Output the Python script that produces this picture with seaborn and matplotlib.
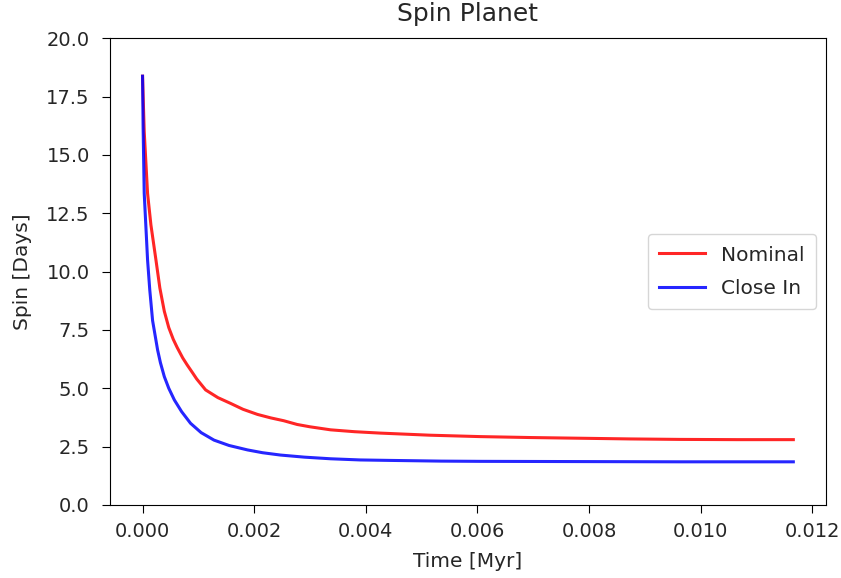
import matplotlib
matplotlib.use("Agg")
import matplotlib.pyplot as plt
import seaborn as sns

# Nominal planet spin
t_nominal = [0.0, 0.00003, 0.00009, 0.00015, 0.00024, 0.00031, 0.00039, 0.00047, 0.00055,
             0.00062, 0.00072, 0.0008, 0.0009, 0.00097, 0.00113, 0.00135, 0.00158, 0.0018,
             0.00206, 0.0023, 0.00253, 0.00277, 0.003, 0.00337, 0.0038, 0.00426, 0.00515,
             0.00605, 0.00695, 0.00784, 0.00874, 0.00963, 0.01065, 0.01166]
spin_nominal = [18.37, 16.0, 13.35, 12.0, 10.5, 9.3, 8.3, 7.6, 7.1,
                6.75, 6.3, 6.0, 5.65, 5.4, 4.93, 4.6, 4.35, 4.1,
                3.88, 3.73, 3.61, 3.45, 3.35, 3.22, 3.14, 3.08, 2.99,
                2.93, 2.89, 2.86, 2.83, 2.81, 2.80, 2.80]

# Close-in planet spin
t_close = [0.0, 0.00001, 0.00003, 0.00009, 0.00013, 0.00018, 0.00027, 0.00032, 0.00039,
           0.00047, 0.00057, 0.0007, 0.00086, 0.00105, 0.00128, 0.00155, 0.00188, 0.00215,
           0.00247, 0.0029, 0.00337, 0.0039, 0.00444, 0.00535, 0.00605, 0.00784, 0.00963,
           0.01166]
spin_close = [18.37, 16.2, 13.35, 10.5, 9.2, 7.9, 6.64, 6.1, 5.5,
              5.0, 4.5, 4.0, 3.5, 3.1, 2.78, 2.55, 2.36, 2.24,
              2.14, 2.05, 1.98, 1.93, 1.91, 1.88, 1.87, 1.86, 1.85,
              1.85]

plt.rcParams["font.family"] = ["DejaVu Sans"]
plt.rcParams["text.color"] = "#262626"
plt.rcParams["axes.labelcolor"] = "#262626"
plt.rcParams["xtick.labelcolor"] = "#262626"
plt.rcParams["ytick.labelcolor"] = "#262626"
plt.rcParams["xtick.labelsize"] = 14
plt.rcParams["ytick.labelsize"] = 14
plt.rcParams["axes.labelsize"] = 14.5
plt.rcParams["xtick.major.size"] = 5.5
plt.rcParams["ytick.major.size"] = 5.5
plt.rcParams["xtick.major.pad"] = 6.5
plt.rcParams["ytick.major.pad"] = 9

fig, ax = plt.subplots(figsize=(8.41, 5.78), dpi=100)
fig.subplots_adjust(left=0.1308, right=0.982, bottom=0.1263, top=0.934)

sns.lineplot(x=t_nominal, y=spin_nominal, color="red", alpha=0.85, lw=2.2,
             label="Nominal", ax=ax)
sns.lineplot(x=t_close, y=spin_close, color="blue", alpha=0.85, lw=2.2,
             label="Close In", ax=ax)

ax.set_ylim(0, 20)
ax.set_yticks([0, 2.5, 5, 7.5, 10, 12.5, 15, 17.5, 20])
ax.set_xlabel("Time [Myr]", labelpad=8)
ax.set_ylabel("Spin [Days]", labelpad=10)
ax.set_title("Spin Planet", fontsize=18, pad=12)
ax.legend(loc="center right", fontsize=14.5, handlelength=2.3,
          handletextpad=0.8, labelspacing=0.7, borderpad=0.55)

plt.savefig("out.png", dpi=100)
